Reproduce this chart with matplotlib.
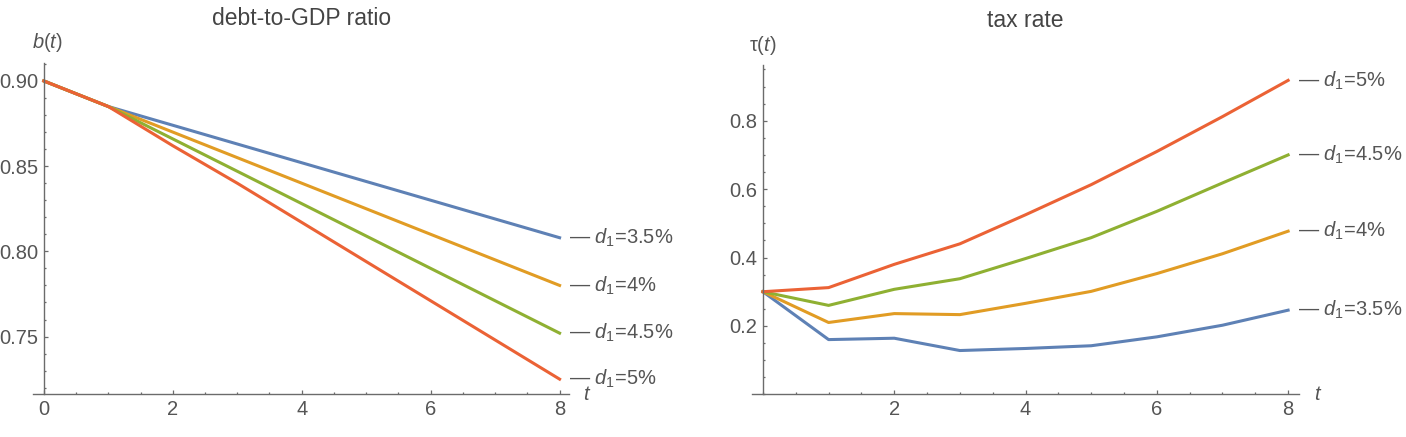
import matplotlib.pyplot as plt
from matplotlib.ticker import MultipleLocator, FixedLocator

plt.rcParams['font.family'] = ['Liberation Sans', 'DejaVu Sans']
plt.rcParams['mathtext.fontset'] = 'custom'
plt.rcParams['mathtext.rm'] = 'Liberation Sans'
plt.rcParams['mathtext.it'] = 'Liberation Sans:italic'

# 데이터
t = [0, 1, 2, 3, 4, 5, 6, 7, 8]

b_35 = [0.900, 0.885, 0.874, 0.863, 0.852, 0.841, 0.830, 0.819, 0.808]
b_40 = [0.900, 0.885, 0.870, 0.855, 0.840, 0.825, 0.810, 0.795, 0.780]
b_45 = [0.900, 0.885, 0.866, 0.847, 0.828, 0.809, 0.790, 0.771, 0.752]
b_50 = [0.900, 0.885, 0.862, 0.840, 0.817, 0.794, 0.771, 0.748, 0.725]

tau_35 = [0.300, 0.160, 0.164, 0.128, 0.134, 0.142, 0.168, 0.202, 0.246]
tau_40 = [0.300, 0.210, 0.236, 0.233, 0.266, 0.301, 0.353, 0.411, 0.477]
tau_45 = [0.300, 0.260, 0.307, 0.338, 0.397, 0.458, 0.535, 0.618, 0.700]
tau_50 = [0.300, 0.312, 0.380, 0.440, 0.525, 0.613, 0.710, 0.812, 0.918]

labels = ['$d_1$=3.5%', '$d_1$=4%', '$d_1$=4.5%', '$d_1$=5%']
colors = ['#5e81b5', '#e19c24', '#8fb032', '#eb6235']

axis_col = '#6b6b6b'
text_col = '#555555'

fig = plt.figure(figsize=(14.06, 4.37), dpi=100)
ax1 = fig.add_axes([0.02368, 0.0977, 0.3812, 0.7588])
ax2 = fig.add_axes([0.5346, 0.0977, 0.3895, 0.7536])


def style(ax):
    for s in ['top', 'right']:
        ax.spines[s].set_visible(False)
    ax.spines['left'].set_position(('data', 0))
    for s in ['left', 'bottom']:
        ax.spines[s].set_color(axis_col)
        ax.spines[s].set_linewidth(1.0)
    ax.tick_params(which='both', direction='in', colors=axis_col,
                   labelcolor=text_col, labelsize=14.5, width=0.9)
    ax.tick_params(which='major', length=3.0, pad=4)
    ax.tick_params(which='minor', length=1.7)
    ax.xaxis.set_minor_locator(MultipleLocator(0.5))


# 왼쪽: 부채비율
style(ax1)
for ys, c, lab in zip([b_35, b_40, b_45, b_50], colors, labels):
    ax1.plot(t, ys, color=c, lw=2.2, clip_on=False)
    ax1.annotate('— ' + lab, xy=(t[-1], ys[-1]), xytext=(7, 0),
                 textcoords='offset points', va='center', ha='left',
                 fontsize=14.5, color=text_col, annotation_clip=False)
ax1.set_xlim(-0.163, 8.15)
ax1.set_ylim(0.7161, 0.9107)
ax1.set_xticks([0, 2, 4, 6, 8])
ax1.yaxis.set_major_locator(FixedLocator([0.75, 0.80, 0.85, 0.90]))
ax1.set_yticklabels(['0.75', '0.80', '0.85', '0.90'])
ax1.yaxis.set_minor_locator(MultipleLocator(0.01))
ax1.text(0.05, 1.06, '$b$($t$)', transform=ax1.get_xaxis_transform(),
         ha='center', va='center', fontsize=14.5, color=text_col)
ax1.text(8.43, 0.7161, '$t$', ha='center', va='center', fontsize=14.5,
         color=text_col, clip_on=False)
ax1.set_title('debt-to-GDP ratio', fontsize=16.5, color='#444444', pad=27)

# 오른쪽: 세율
style(ax2)
for ys, c, lab in zip([tau_35, tau_40, tau_45, tau_50], colors, labels):
    ax2.plot(t, ys, color=c, lw=2.2, clip_on=False)
    ax2.annotate('— ' + lab, xy=(t[-1], ys[-1]), xytext=(7, 0),
                 textcoords='offset points', va='center', ha='left',
                 fontsize=14.5, color=text_col, annotation_clip=False)
ax2.set_xlim(-0.172, 8.17)
ax2.set_ylim(0, 0.963)
ax2.set_xticks([2, 4, 6, 8])
ax2.yaxis.set_major_locator(FixedLocator([0.2, 0.4, 0.6, 0.8]))
ax2.set_yticklabels(['0.2', '0.4', '0.6', '0.8'])
ax2.yaxis.set_minor_locator(MultipleLocator(0.05))
ax2.text(0.0, 1.06, 'τ($t$)', transform=ax2.get_xaxis_transform(),
         ha='center', va='center', fontsize=14.5, color=text_col)
ax2.text(8.45, 0.0, '$t$', ha='center', va='center', fontsize=14.5,
         color=text_col, clip_on=False)
ax2.set_title('tax rate', fontsize=16.5, color='#444444', pad=27)

fig.savefig('out.png', dpi=100)
